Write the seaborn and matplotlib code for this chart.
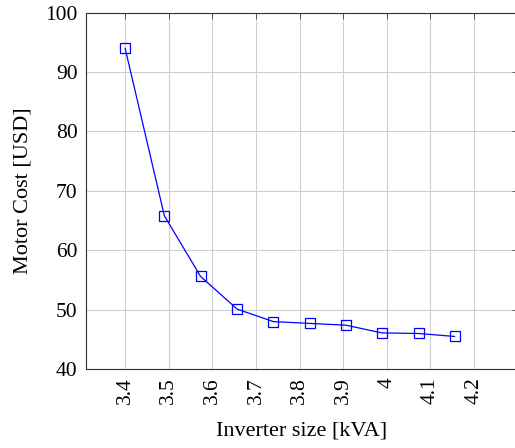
import seaborn as sns
import matplotlib.pyplot as plt
import matplotlib.ticker as mtick

# Data
inverter_kva = [3.400, 3.490, 3.573, 3.657, 3.740, 3.823, 3.906, 3.989, 4.073, 4.156]
motor_cost = [94.0, 65.8, 55.6, 50.1, 48.0, 47.7, 47.4, 46.1, 46.0, 45.5]
x_ticks = [3.4, 3.5, 3.6, 3.7, 3.8, 3.9, 4.0, 4.1, 4.2]
y_ticks = [40, 50, 60, 70, 80, 90, 100]

sns.set_style("white")
plt.rcParams['font.family'] = ['Liberation Serif', 'DejaVu Serif']
plt.rcParams['text.color'] = 'black'
plt.rcParams['axes.labelcolor'] = 'black'
plt.rcParams['xtick.color'] = 'black'
plt.rcParams['ytick.color'] = 'black'

fig = plt.figure(figsize=(5.15, 4.48), dpi=100)
# right spine sits just past the image edge, like the cropped original
ax = fig.add_axes([0.167, 0.176, 0.838, 0.796])

sns.lineplot(
    x=inverter_kva, y=motor_cost, ax=ax,
    color='blue', linewidth=0.9, marker='s', markersize=6.5,
    markerfacecolor='none', markeredgecolor='blue', markeredgewidth=0.9,
)

ax.set_xlim(3.3103, 4.3)
ax.set_ylim(40, 100)
ax.set_xticks(x_ticks)
ax.set_yticks(y_ticks)
ax.xaxis.set_major_formatter(mtick.FuncFormatter(lambda v, _: f"{v:g}"))
ax.tick_params(axis='x', labelrotation=90)

ax.grid(True, color='#cfcfcf', linewidth=0.8)
ax.set_axisbelow(True)
for s in ax.spines.values():
    s.set_color('#333333')
    s.set_linewidth(0.8)

ax.tick_params(direction='in', length=4.5, width=0.7, color='#555555',
               labelcolor='black', top=True, right=True, labelsize=15.5, pad=6)

ax.set_xlabel("Inverter size [kVA]", fontsize=16, labelpad=12)
ax.set_ylabel("Motor Cost [USD]", fontsize=16, labelpad=9)

fig.savefig("out.png", dpi=100)
